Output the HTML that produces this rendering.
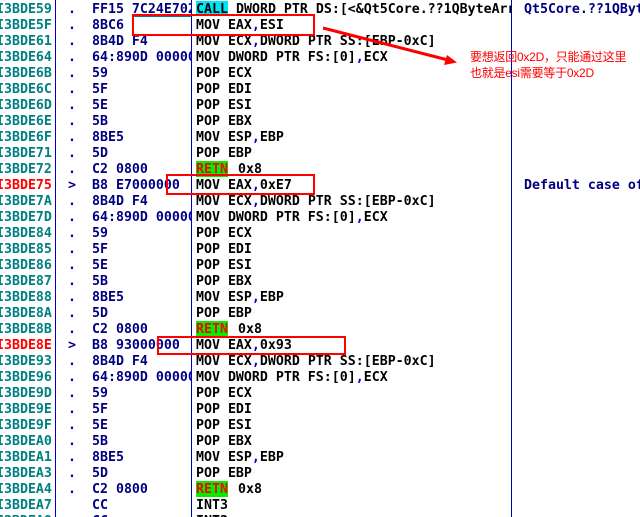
<!DOCTYPE html>
<html><head><meta charset="utf-8">
<style>
html,body{margin:0;padding:0;background:#fff}
#p{position:relative;width:640px;height:517px;overflow:hidden;background:#fff;font:bold 13.28px/16px "DejaVu Sans Mono","Liberation Mono",monospace}
.g{position:absolute;left:196px;width:32px;height:16px;background:#00f000}
.r{position:absolute;left:0;width:640px;height:18px;white-space:pre}
.r span{position:absolute;top:2px}
.a{left:-4px;color:#008080}
.d{left:68px;color:#000080}
.h{left:92px;color:#000080;width:99px;overflow:hidden}
.i{left:196px;color:#000;width:315px;overflow:hidden;height:17px}
.c{left:524px;color:#000080;width:116px;overflow:hidden}
.i b{color:#0000c0}
.i i{font-style:normal;display:inline-block;width:32px;margin-right:8px}
.i i.t{color:#f00;margin-right:10px}
.v{position:absolute;top:0;width:1px;height:517px;background:#0000c0}
.cn{position:absolute;left:470px;color:#f00;font:12px/16px "Liberation Sans","Noto Sans CJK SC",sans-serif;white-space:nowrap;letter-spacing:-.25px}
.b{position:absolute;border:2px solid #f00;box-sizing:border-box}
</style></head><body><div id="p">
<div class="g" style="top:1px;height:15px;background:#00e5f5"></div>
<div class="g" style="top:161px"></div>
<div class="g" style="top:321px"></div>
<div class="g" style="top:481px"></div>
<div class="r" style="top:0"><span class="a">I3BDE59</span><span class="d">.</span><span class="h">FF15 7C24E702</span><span class="i"><i>CALL</i>DWORD PTR DS:[&lt;&amp;Qt5Core.??1QByteArr</span><span class="c">Qt5Core.??1QByteArray</span></div>
<div class="r" style="top:16px"><span class="a">I3BDE5F</span><span class="d">.</span><span class="h">8BC6</span><span class="i">MOV EAX<b>,</b>ESI</span></div>
<div class="r" style="top:32px"><span class="a">I3BDE61</span><span class="d">.</span><span class="h">8B4D F4</span><span class="i">MOV ECX<b>,</b>DWORD PTR SS:[EBP-0xC]</span></div>
<div class="r" style="top:48px"><span class="a">I3BDE64</span><span class="d">.</span><span class="h">64:890D 00000000</span><span class="i">MOV DWORD PTR FS:[0]<b>,</b>ECX</span></div>
<div class="r" style="top:64px"><span class="a">I3BDE6B</span><span class="d">.</span><span class="h">59</span><span class="i">POP ECX</span></div>
<div class="r" style="top:80px"><span class="a">I3BDE6C</span><span class="d">.</span><span class="h">5F</span><span class="i">POP EDI</span></div>
<div class="r" style="top:96px"><span class="a">I3BDE6D</span><span class="d">.</span><span class="h">5E</span><span class="i">POP ESI</span></div>
<div class="r" style="top:112px"><span class="a">I3BDE6E</span><span class="d">.</span><span class="h">5B</span><span class="i">POP EBX</span></div>
<div class="r" style="top:128px"><span class="a">I3BDE6F</span><span class="d">.</span><span class="h">8BE5</span><span class="i">MOV ESP<b>,</b>EBP</span></div>
<div class="r" style="top:144px"><span class="a">I3BDE71</span><span class="d">.</span><span class="h">5D</span><span class="i">POP EBP</span></div>
<div class="r" style="top:160px"><span class="a">I3BDE72</span><span class="d">.</span><span class="h">C2 0800</span><span class="i"><i class="t">RETN</i>0x8</span></div>
<div class="r" style="top:176px"><span class="a" style="color:#f00">I3BDE75</span><span class="d">&gt;</span><span class="h">B8 E7000000</span><span class="i">MOV EAX<b>,</b>0xE7</span><span class="c">Default case of</span></div>
<div class="r" style="top:192px"><span class="a">I3BDE7A</span><span class="d">.</span><span class="h">8B4D F4</span><span class="i">MOV ECX<b>,</b>DWORD PTR SS:[EBP-0xC]</span></div>
<div class="r" style="top:208px"><span class="a">I3BDE7D</span><span class="d">.</span><span class="h">64:890D 00000000</span><span class="i">MOV DWORD PTR FS:[0]<b>,</b>ECX</span></div>
<div class="r" style="top:224px"><span class="a">I3BDE84</span><span class="d">.</span><span class="h">59</span><span class="i">POP ECX</span></div>
<div class="r" style="top:240px"><span class="a">I3BDE85</span><span class="d">.</span><span class="h">5F</span><span class="i">POP EDI</span></div>
<div class="r" style="top:256px"><span class="a">I3BDE86</span><span class="d">.</span><span class="h">5E</span><span class="i">POP ESI</span></div>
<div class="r" style="top:272px"><span class="a">I3BDE87</span><span class="d">.</span><span class="h">5B</span><span class="i">POP EBX</span></div>
<div class="r" style="top:288px"><span class="a">I3BDE88</span><span class="d">.</span><span class="h">8BE5</span><span class="i">MOV ESP<b>,</b>EBP</span></div>
<div class="r" style="top:304px"><span class="a">I3BDE8A</span><span class="d">.</span><span class="h">5D</span><span class="i">POP EBP</span></div>
<div class="r" style="top:320px"><span class="a">I3BDE8B</span><span class="d">.</span><span class="h">C2 0800</span><span class="i"><i class="t">RETN</i>0x8</span></div>
<div class="r" style="top:336px"><span class="a" style="color:#f00">I3BDE8E</span><span class="d">&gt;</span><span class="h">B8 93000000</span><span class="i">MOV EAX<b>,</b>0x93</span></div>
<div class="r" style="top:352px"><span class="a">I3BDE93</span><span class="d">.</span><span class="h">8B4D F4</span><span class="i">MOV ECX<b>,</b>DWORD PTR SS:[EBP-0xC]</span></div>
<div class="r" style="top:368px"><span class="a">I3BDE96</span><span class="d">.</span><span class="h">64:890D 00000000</span><span class="i">MOV DWORD PTR FS:[0]<b>,</b>ECX</span></div>
<div class="r" style="top:384px"><span class="a">I3BDE9D</span><span class="d">.</span><span class="h">59</span><span class="i">POP ECX</span></div>
<div class="r" style="top:400px"><span class="a">I3BDE9E</span><span class="d">.</span><span class="h">5F</span><span class="i">POP EDI</span></div>
<div class="r" style="top:416px"><span class="a">I3BDE9F</span><span class="d">.</span><span class="h">5E</span><span class="i">POP ESI</span></div>
<div class="r" style="top:432px"><span class="a">I3BDEA0</span><span class="d">.</span><span class="h">5B</span><span class="i">POP EBX</span></div>
<div class="r" style="top:448px"><span class="a">I3BDEA1</span><span class="d">.</span><span class="h">8BE5</span><span class="i">MOV ESP<b>,</b>EBP</span></div>
<div class="r" style="top:464px"><span class="a">I3BDEA3</span><span class="d">.</span><span class="h">5D</span><span class="i">POP EBP</span></div>
<div class="r" style="top:480px"><span class="a">I3BDEA4</span><span class="d">.</span><span class="h">C2 0800</span><span class="i"><i class="t">RETN</i>0x8</span></div>
<div class="r" style="top:496px"><span class="a">I3BDEA7</span><span class="h">CC</span><span class="i">INT3</span></div>
<div class="r" style="top:512px"><span class="a">I3BDEA8</span><span class="h">CC</span><span class="i">INT3</span></div>
<div class="v" style="left:55px"></div>
<div class="v" style="left:191px"></div>
<div class="v" style="left:511px"></div>
<div style="position:absolute;left:132px;top:16px;width:59px;height:1px;background:#008080"></div>
<div class="b" style="left:132px;top:14px;width:183px;height:22px"></div>
<div class="b" style="left:166px;top:174px;width:149px;height:21px"></div>
<div class="b" style="left:157px;top:336px;width:189px;height:19px"></div>
<svg style="position:absolute;left:0;top:0" width="640" height="517"><line x1="323" y1="28" x2="448" y2="60" stroke="#f00" stroke-width="3"/><polygon points="457,62.5 444,65 447,55" fill="#f00"/></svg>
<div class="cn" style="top:49px">要想返回0x2D，只能通过这里</div>
<div class="cn" style="top:65px">也就是esi需要等于0x2D</div>
</div></body></html>
